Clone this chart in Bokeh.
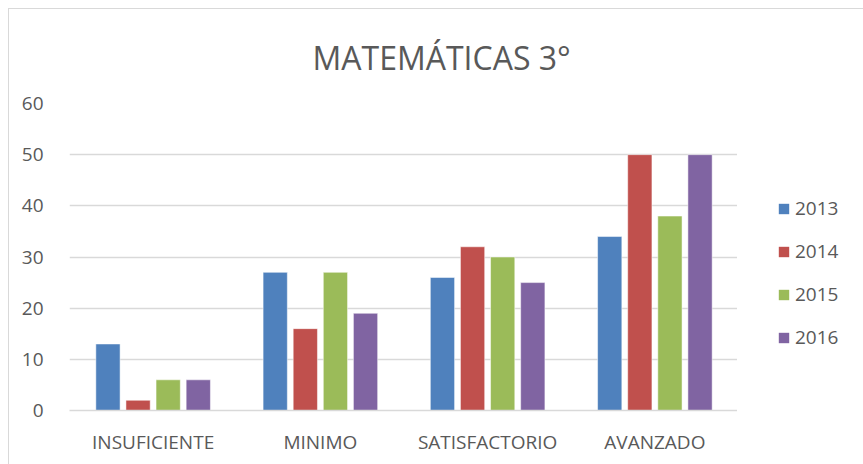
from bokeh.plotting import figure
from bokeh.layouts import row
from bokeh.models import ColumnDataSource, FactorRange, Legend, LegendItem, Title
from bokeh.transform import dodge
from bokeh.embed import file_html
from bokeh.resources import INLINE

categories = ["INSUFICIENTE", "MINIMO", "SATISFACTORIO", "AVANZADO"]
years = ["2013", "2014", "2015", "2016"]
v2013 = [13, 27, 26, 34]
v2014 = [2, 16, 32, 50]
v2015 = [6, 27, 30, 38]
v2016 = [6, 19, 25, 50]
y_ticks = [0, 10, 20, 30, 40, 50, 60]

colors = ["#4F81BD", "#C0504D", "#9BBB59", "#8064A2"]
offsets = [-0.27, -0.09, 0.09, 0.27]
TXT = "#595959"
FONT = "Open Sans"
BORDER = "1px solid #d9d9d9"

source = ColumnDataSource(dict(cat=categories, y2013=v2013, y2014=v2014, y2015=v2015, y2016=v2016))

p = figure(width=729, height=456, x_range=FactorRange(*categories, range_padding=0),
           y_range=(0, 60), output_backend="svg", toolbar_location=None,
           min_border_left=60, min_border_right=0, min_border_top=94, min_border_bottom=55)

p.title = Title(text="MATEMÁTICAS 3°", align="left", offset=243, standoff=49, text_font=FONT,
                text_font_size="32px", text_font_style="normal", text_color=TXT)

for yr, col, off in zip(years, colors, offsets):
    p.vbar(x=dodge("cat", off, range=p.x_range), top="y" + yr, width=0.145, source=source,
           fill_color=col, line_color="white", line_width=0.5)

p.xgrid.grid_line_color = None
p.ygrid.grid_line_color = "#d9d9d9"
p.ygrid.grid_line_width = 1.3
p.ygrid.ticker = y_ticks
p.yaxis.ticker = y_ticks
p.yaxis.axis_line_color = None
p.yaxis.major_tick_line_color = None
p.yaxis.minor_tick_line_color = None
p.yaxis.major_label_standoff = 20
p.yaxis.major_label_text_font = FONT
p.yaxis.major_label_text_font_size = "19px"
p.yaxis.major_label_text_color = TXT

p.xaxis.axis_line_color = "#d9d9d9"
p.xaxis.axis_line_width = 1.3
p.xaxis.major_tick_line_color = None
p.xaxis.minor_tick_line_color = None
p.xaxis.major_label_standoff = 12
p.xaxis.major_label_text_font = FONT
p.xaxis.major_label_text_font_size = "19px"
p.xaxis.major_label_text_color = TXT

p.outline_line_color = None
p.styles = {"margin-left": "8px", "margin-top": "8px", "border-left": BORDER, "border-top": BORDER}

# legend panel (shares the chart's ranges; its proxy bars are hidden)
lg = figure(width=126, height=456, x_range=p.x_range, y_range=p.y_range,
            output_backend="svg", toolbar_location=None,
            x_axis_location=None, y_axis_location=None,
            min_border_left=0, min_border_right=0, min_border_top=0, min_border_bottom=0)
lg.xgrid.grid_line_color = None
lg.ygrid.grid_line_color = None
lg.outline_line_color = None
lg.styles = {"margin-top": "8px", "border-top": BORDER}

proxies = [lg.vbar(x=dodge("cat", off, range=lg.x_range), top="y" + yr, width=0.145, source=source,
                   fill_color=col, line_color=None, visible=False)
           for yr, col, off in zip(years, colors, offsets)]
legend = Legend(items=[LegendItem(label=yr, renderers=[r]) for yr, r in zip(years, proxies)],
                location=(40, 60), padding=0, margin=0, border_line_color=None,
                background_fill_alpha=0, glyph_width=13, glyph_height=13, label_height=20,
                spacing=17, label_standoff=5, label_text_font=FONT, label_text_font_size="19px",
                label_text_color=TXT)
lg.add_layout(legend, "center")

layout = row(p, lg)
open("out.html", "w").write(file_html(layout, INLINE))
